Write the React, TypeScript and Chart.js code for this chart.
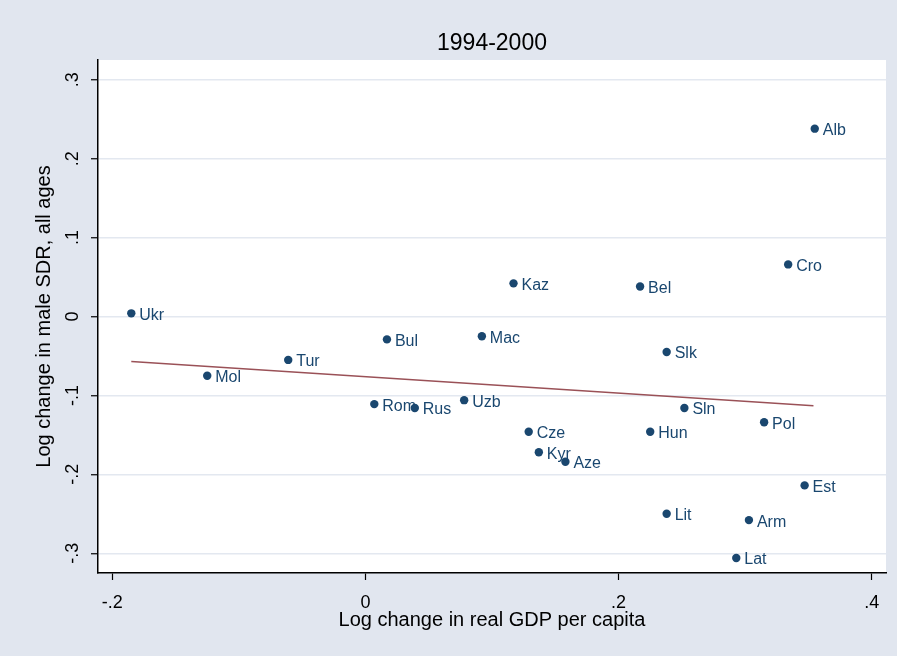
import React, { useEffect, useRef } from 'react';
import { Chart, registerables } from 'chart.js';

Chart.register(...registerables);

// ---- data ----
const countries = ['Ukr', 'Mol', 'Tur', 'Bul', 'Rom', 'Rus', 'Uzb', 'Mac', 'Kaz', 'Cze', 'Kyr', 'Aze', 'Bel', 'Hun', 'Slk', 'Lit', 'Sln', 'Lat', 'Arm', 'Pol', 'Cro', 'Est', 'Alb'];
const gdpChange = [-0.185, -0.125, -0.061, 0.017, 0.007, 0.039, 0.078, 0.092, 0.117, 0.129, 0.137, 0.158, 0.217, 0.225, 0.238, 0.238, 0.252, 0.293, 0.303, 0.315, 0.334, 0.347, 0.355];
const sdrChange = [0.004, -0.075, -0.055, -0.029, -0.111, -0.116, -0.106, -0.025, 0.042, -0.146, -0.172, -0.184, 0.038, -0.146, -0.045, -0.250, -0.116, -0.306, -0.258, -0.134, 0.066, -0.214, 0.238];

const fitX = [-0.185, 0.354];
const fitY = [-0.057, -0.113];

const xTicks = [-0.2, 0, 0.2, 0.4];
const yTicks = [-0.3, -0.2, -0.1, 0, 0.1, 0.2, 0.3];

const titleText = '1994-2000';
const xTitle = 'Log change in real GDP per capita';
const yTitle = 'Log change in male SDR, all ages';

const FONT = '"Liberation Sans", Arial, sans-serif';
const NAVY = '#1A476F';
const BG = '#E1E6EF';

function fmt(v: number): string {
  const s = (Math.round(v * 10) / 10).toFixed(1);
  if (s === '0.0' || s === '-0.0') return '0';
  return s.replace('0.', '.');
}

export default function App() {
  const ref = useRef<HTMLCanvasElement | null>(null);

  useEffect(() => {
    if (!ref.current) return;

    const bgPlugin = {
      id: 'bgPlugin',
      beforeDraw(chart: any) {
        const { ctx, chartArea } = chart;
        ctx.save();
        ctx.fillStyle = BG;
        ctx.fillRect(0, 0, chart.width, chart.height);
        ctx.fillStyle = '#FFFFFF';
        ctx.fillRect(chartArea.left, chartArea.top, chartArea.right - chartArea.left, chartArea.bottom - chartArea.top);
        ctx.restore();
      },
    };

    const labelPlugin = {
      id: 'labelPlugin',
      beforeDatasetsDraw(chart: any) {
        const { ctx } = chart;
        const meta = chart.getDatasetMeta(0);
        ctx.save();
        ctx.font = `16px ${FONT}`;
        ctx.fillStyle = NAVY;
        ctx.textAlign = 'left';
        ctx.textBaseline = 'middle';
        meta.data.forEach((pt: any, i: number) => {
          ctx.fillText(countries[i], pt.x + 8, pt.y + 2);
        });
        ctx.restore();
      },
    };

    const titlePlugin = {
      id: 'titlePlugin',
      afterDraw(chart: any) {
        const { ctx, chartArea } = chart;
        ctx.save();
        ctx.font = `23px ${FONT}`;
        ctx.fillStyle = '#000';
        ctx.textAlign = 'center';
        ctx.textBaseline = 'middle';
        ctx.fillText(titleText, (chartArea.left + chartArea.right) / 2, 44);
        ctx.restore();
      },
    };

    const chart = new Chart(ref.current, {
      type: 'scatter',
      data: {
        datasets: [
          {
            label: 'points',
            data: gdpChange.map((x, i) => ({ x, y: sdrChange[i] })),
            backgroundColor: NAVY,
            borderColor: NAVY,
            pointRadius: 4.2,
            pointBorderWidth: 0,
            showLine: false,
            order: 1,
          },
          {
            label: 'fit',
            data: fitX.map((x, i) => ({ x, y: fitY[i] })),
            borderColor: '#9A5157',
            borderWidth: 1.6,
            pointRadius: 0,
            showLine: true,
            fill: false,
            order: 2,
          },
        ],
      },
      options: {
        responsive: false,
        animation: false,
        layout: { padding: { top: 60, right: 11, bottom: 0, left: 0 } },
        plugins: {
          legend: { display: false },
          tooltip: { enabled: false },
          title: { display: false },
        },
        scales: {
          x: {
            type: 'linear',
            min: -0.2113,
            max: 0.4113,
            afterBuildTicks: (scale: any) => {
              scale.ticks = xTicks.map((v) => ({ value: v }));
            },
            afterFit: (scale: any) => {
              scale.height = 83;
            },
            grid: {
              drawOnChartArea: false,
              drawTicks: true,
              tickLength: 7,
              tickColor: '#000',
              tickWidth: 1.2,
            },
            border: { display: true, color: '#000', width: 1.5 },
            ticks: {
              padding: 12,
              color: '#000',
              font: { family: FONT, size: 18 },
              callback: (v: any) => fmt(Number(v)),
              maxRotation: 0,
              minRotation: 0,
            },
            title: {
              display: true,
              text: xTitle,
              color: '#000',
              font: { family: FONT, size: 20 },
              padding: { top: 0, bottom: 24 },
            },
          },
          y: {
            type: 'linear',
            min: -0.325,
            max: 0.325,
            afterBuildTicks: (scale: any) => {
              scale.ticks = yTicks.map((v) => ({ value: v }));
            },
            afterFit: (scale: any) => {
              scale.width = 98;
            },
            grid: {
              color: '#E3E8F0',
              lineWidth: 1.5,
              drawTicks: true,
              tickLength: 7,
              tickColor: '#000',
              tickWidth: 1.2,
            },
            border: { display: true, color: '#000', width: 1.5 },
            ticks: {
              padding: 7,
              color: '#000',
              crossAlign: 'center',
              minRotation: 90,
              maxRotation: 90,
              font: { family: FONT, size: 18 },
              callback: (v: any) => fmt(Number(v)),
            },
            title: {
              display: true,
              text: yTitle,
              color: '#000',
              font: { family: FONT, size: 20 },
              padding: { top: 32, bottom: 0 },
            },
          },
        },
      },
      plugins: [bgPlugin, labelPlugin, titlePlugin],
    } as any);

    return () => chart.destroy();
  }, []);

  return (
    <div style={{ position: 'absolute', left: 0, top: 0, width: 897, height: 656 }}>
      <canvas ref={ref} width={897} height={656} style={{ display: 'block', width: 897, height: 656 }} />
    </div>
  );
}
